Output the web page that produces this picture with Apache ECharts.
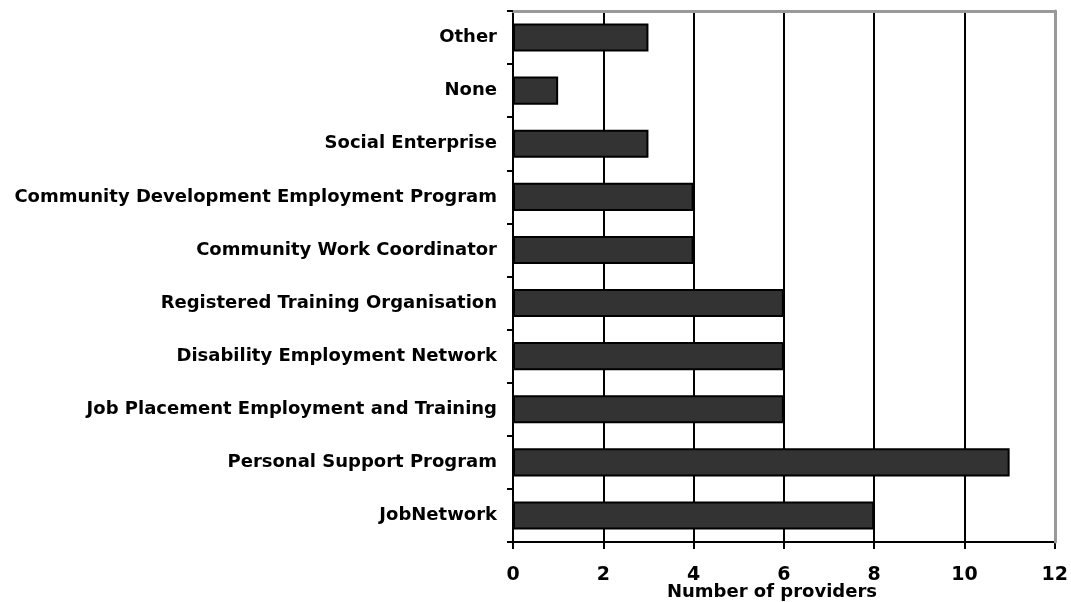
<!DOCTYPE html>
<html>
<head>
<meta charset="utf-8">
<style>
  html, body { margin: 0; padding: 0; background: #fff; }
  #chart { width: 1071px; height: 602px; }
</style>
<script src="https://cdn.jsdelivr.net/npm/echarts@6/dist/echarts.min.js"></script>
</head>
<body>
<div id="chart"></div>
<script>
// Provider types, listed bottom to top as they appear on the category axis
const categories = [
  'JobNetwork',
  'Personal Support Program',
  'Job Placement Employment and Training',
  'Disability Employment Network',
  'Registered Training Organisation',
  'Community Work Coordinator',
  'Community Development Employment Program',
  'Social Enterprise',
  'None',
  'Other'
];
// Number of providers offering each type
const providerCounts = [8, 11, 6, 6, 6, 4, 4, 3, 1, 3];
// Value axis range
const xMin = 0;
const xMax = 12;
const xStep = 2;
const xTitle = 'Number of providers';

const FONT = '"DejaVu Sans", Verdana, sans-serif';

const chart = echarts.init(document.getElementById('chart'), null, { renderer: 'canvas' });

chart.setOption({
  animation: false,
  backgroundColor: '#ffffff',
  grid: { left: 513, right: 13, top: 11, bottom: 60, containLabel: false },
  xAxis: [
    {
      type: 'value',
      min: xMin, max: xMax, interval: xStep,
      position: 'bottom',
      axisLine: { show: true, onZero: false, lineStyle: { color: '#000', width: 2 } },
      axisTick: { show: true, inside: false, length: 7, lineStyle: { color: '#000', width: 2 } },
      axisLabel: { color: '#000', fontFamily: FONT, fontWeight: 'bold', fontSize: 19, margin: 24 },
      splitLine: { show: true, lineStyle: { color: '#000', width: 2 } }
    },
    {
      // top frame edge
      type: 'value',
      min: xMin, max: xMax, interval: xStep,
      position: 'top',
      axisLine: { show: true, onZero: false, lineStyle: { color: '#999', width: 3 } },
      axisTick: { show: false },
      axisLabel: { show: false },
      splitLine: { show: false }
    }
  ],
  yAxis: [
    {
      type: 'category',
      data: categories,
      position: 'left',
      axisLine: { show: true, onZero: false, lineStyle: { color: '#000', width: 2 } },
      axisTick: { show: true, inside: false, length: 6, alignWithLabel: false, lineStyle: { color: '#000', width: 2 } },
      axisLabel: { color: '#000', fontFamily: FONT, fontWeight: 'bold', fontSize: 18, margin: 16, padding: [3, 0, 0, 0] },
      splitLine: { show: false }
    },
    {
      // right frame edge
      type: 'category',
      data: categories,
      position: 'right',
      axisLine: { show: true, onZero: false, lineStyle: { color: '#999', width: 3 } },
      axisTick: { show: false },
      axisLabel: { show: false },
      splitLine: { show: false },
      z: 5
    }
  ],
  series: [
    {
      type: 'bar',
      data: providerCounts,
      xAxisIndex: 0,
      yAxisIndex: 0,
      barWidth: '53%',
      z: 3,
      itemStyle: { color: '#333333', borderColor: '#000', borderWidth: 2 }
    }
  ],
  graphic: [
    {
      type: 'text',
      x: 772,
      y: 592,
      style: {
        text: xTitle,
        fill: '#000',
        font: 'bold 18px ' + FONT,
        textAlign: 'center',
        textVerticalAlign: 'middle'
      }
    }
  ]
});
</script>
</body>
</html>
